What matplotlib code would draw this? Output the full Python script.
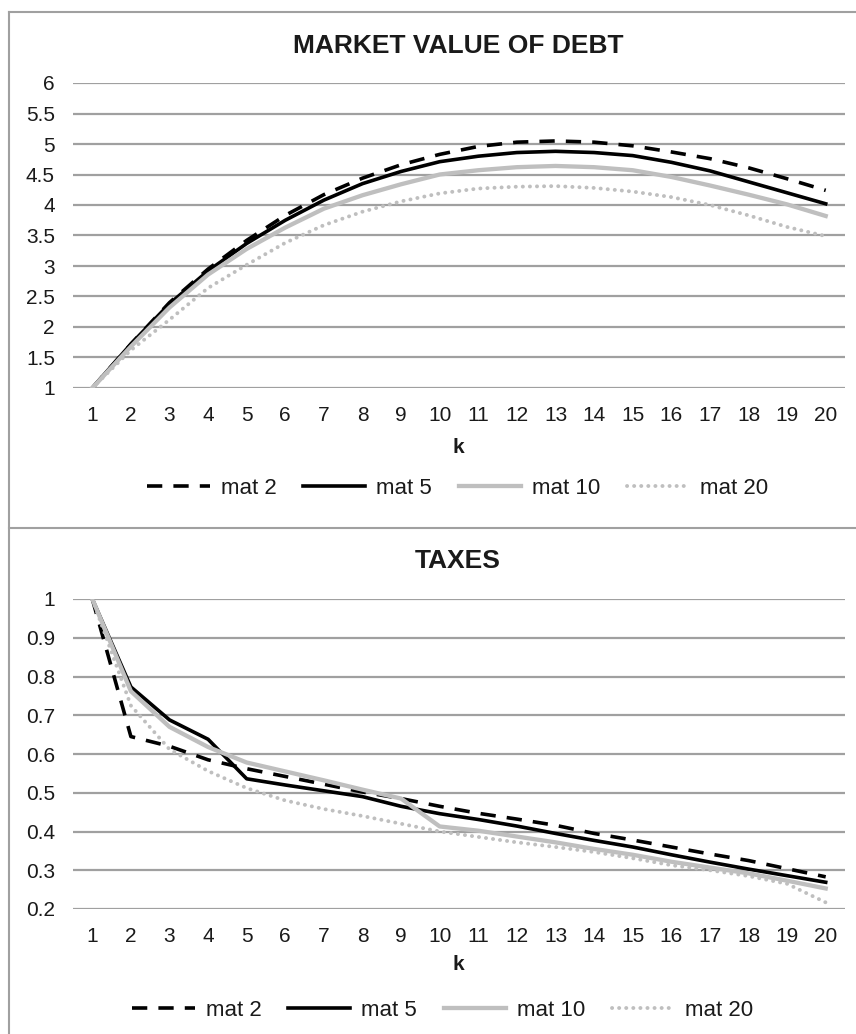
import numpy as np
import matplotlib
matplotlib.use("Agg")
import matplotlib.pyplot as plt
from matplotlib.lines import Line2D

plt.rcParams['font.family'] = ['Liberation Sans', 'DejaVu Sans']
plt.rcParams['lines.scale_dashes'] = False

# data
k = list(range(1, 21))

mvd_mat2 = [1.0, 1.72, 2.40, 2.95, 3.42, 3.83, 4.17, 4.44, 4.66, 4.83,
            4.96, 5.03, 5.05, 5.03, 4.97, 4.87, 4.76, 4.61, 4.43, 4.24]
mvd_mat5 = [1.0, 1.72, 2.38, 2.92, 3.37, 3.75, 4.08, 4.35, 4.55, 4.71,
            4.80, 4.86, 4.88, 4.86, 4.81, 4.70, 4.56, 4.38, 4.20, 4.02]
mvd_mat10 = [1.0, 1.68, 2.32, 2.86, 3.28, 3.63, 3.94, 4.16, 4.34, 4.50,
             4.57, 4.62, 4.64, 4.62, 4.57, 4.46, 4.32, 4.17, 4.01, 3.82]
mvd_mat20 = [1.0, 1.62, 2.12, 2.64, 3.02, 3.38, 3.67, 3.89, 4.06, 4.19,
             4.27, 4.30, 4.31, 4.28, 4.22, 4.13, 4.00, 3.83, 3.64, 3.49]

tax_mat2 = [1.0, 0.645, 0.620, 0.585, 0.562, 0.542, 0.522, 0.502, 0.485, 0.465,
            0.447, 0.432, 0.416, 0.395, 0.378, 0.360, 0.342, 0.325, 0.304, 0.283]
tax_mat5 = [1.0, 0.773, 0.688, 0.638, 0.536, 0.520, 0.505, 0.490, 0.465, 0.446,
            0.431, 0.414, 0.395, 0.377, 0.360, 0.340, 0.321, 0.303, 0.286, 0.269]
tax_mat10 = [1.0, 0.762, 0.670, 0.618, 0.578, 0.555, 0.532, 0.508, 0.485, 0.413,
             0.402, 0.387, 0.372, 0.355, 0.340, 0.322, 0.307, 0.292, 0.273, 0.253]
tax_mat20 = [1.0, 0.725, 0.612, 0.556, 0.512, 0.480, 0.458, 0.440, 0.420, 0.400,
             0.386, 0.372, 0.360, 0.347, 0.331, 0.313, 0.300, 0.285, 0.265, 0.217]

labels = ['mat 2', 'mat 5', 'mat 10', 'mat 20']

W, H = 856, 1034
fig = plt.figure(figsize=(W / 100, H / 100), dpi=100)

def fx(px):
    return px / W

def fy(py):
    return 1 - py / H

styles = [
    dict(color='black', lw=2.6, ls=(0, (11, 8)), dash_capstyle='butt'),
    dict(color='black', lw=2.6, ls='-'),
    dict(color='#bfbfbf', lw=3.1, ls='-'),
    dict(color='#bfbfbf', lw=2.8, ls=(0, (0.1, 5.0)), dash_capstyle='round'),
]

def panel(top, bottom, title, title_base, series, ylim, yticks, ylabels,
          k_base, leg_y, leg_x):
    ax = fig.add_axes([fx(73), fy(bottom), fx(845 - 73), (bottom - top) / H])
    for vals, st, lab in zip(series, styles, labels):
        ax.plot(k, vals, label=lab, **st)
    ax.set_xlim(0.5, 20.5)
    ax.set_ylim(*ylim)
    ax.set_yticks(yticks)
    ax.set_yticklabels(ylabels)
    ax.set_xticks(k)
    ax.grid(axis='y', color='#a0a0a0', lw=1.6)
    ax.set_axisbelow(True)
    for s in ax.spines.values():
        s.set_visible(False)
    ax.tick_params(length=0, labelsize=15, colors='#1a1a1a')
    ax.tick_params(axis='x', pad=13)
    ax.tick_params(axis='y', pad=13)
    fig.text(fx(458), fy(title_base), title, ha='center', va='baseline',
             fontsize=19, fontweight='bold', color='#1a1a1a')
    fig.text(fx(458), fy(k_base), 'k', ha='center', va='baseline',
             fontsize=15, fontweight='bold', color='#1a1a1a')
    handles, labs = ax.get_legend_handles_labels()
    fig.legend(handles, labs, loc='center', bbox_to_anchor=(fx(leg_x), fy(leg_y)),
               ncol=4, frameon=False, fontsize=16, handlelength=2.8,
               handletextpad=0.5, columnspacing=1.2, labelcolor='#1a1a1a')
    return ax

panel(83, 388, 'MARKET VALUE OF DEBT', 53,
      [mvd_mat2, mvd_mat5, mvd_mat10, mvd_mat20],
      (1, 6), np.arange(1, 6.01, 0.5),
      ['1', '1.5', '2', '2.5', '3', '3.5', '4', '4.5', '5', '5.5', '6'],
      453, 488, 458)

panel(599, 909, 'TAXES', 568,
      [tax_mat2, tax_mat5, tax_mat10, tax_mat20],
      (0.2, 1.0), np.arange(0.2, 1.001, 0.1),
      ['0.2', '0.3', '0.4', '0.5', '0.6', '0.7', '0.8', '0.9', '1'],
      970, 1010, 443)

# chart area borders
bc = '#a0a0a0'
fig.add_artist(Line2D([fx(8.5), fx(8.5)], [fy(12), 0], color=bc, lw=1.5))
fig.add_artist(Line2D([fx(8.5), 1], [fy(12), fy(12)], color=bc, lw=1.5))
fig.add_artist(Line2D([fx(8.5), 1], [fy(528), fy(528)], color=bc, lw=1.5))

fig.savefig('out.png', dpi=100)
